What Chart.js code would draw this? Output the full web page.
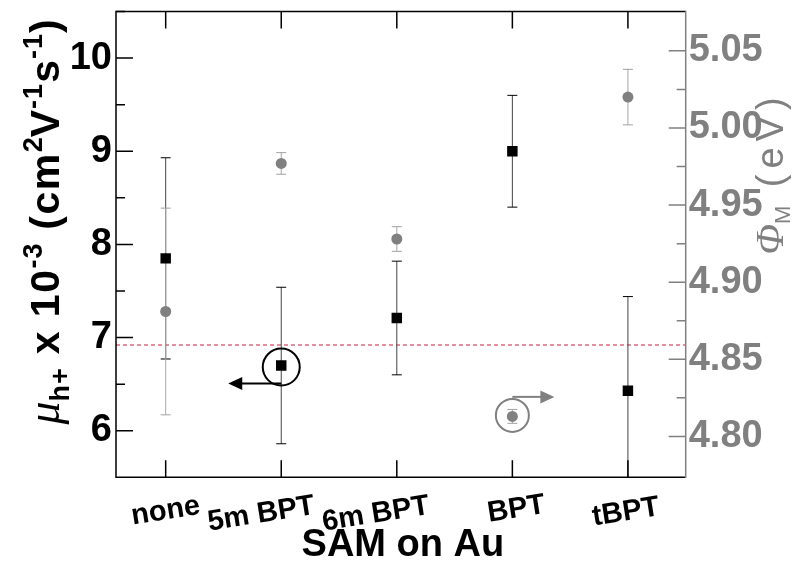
<!DOCTYPE html>
<html>
<head>
<meta charset="utf-8">
<script src="https://cdn.jsdelivr.net/npm/chart.js@4"></script>
<style>
  html, body { margin: 0; padding: 0; background: #fff; }
  canvas { display: block; }
</style>
</head>
<body>
<canvas id="chart" width="795" height="565"></canvas>
<script>
const categories = ['none', '5m BPT', '6m BPT', 'BPT', 'tBPT']
const mobility = [7.85, 6.70, 7.21, 9.00, 6.43]
const mobilityErr = [1.08, 0.84, 0.61, 0.60, 1.01]
const workFunction = [4.881, 4.977, 4.928, 4.813, 5.020]
const workFunctionErr = [0.067, 0.007, 0.008, 0.0045, 0.018]
const mobilityTicks = [6, 7, 8, 9, 10]
const workFunctionTicks = [4.80, 4.85, 4.90, 4.95, 5.00, 5.05]
const referenceMobility = 6.92

const SANS = '"Liberation Sans", Arial, sans-serif'
const SERIF = '"Liberation Serif", "Times New Roman", serif'
const GRAY = '#808080'

// hand-placed label nudges, like in the original figure
const labelShift = [[0, 0], [-20, 3], [-21, 3], [4, -2], [-2, 1]]

function drawRich(ctx, parts, x, y, angle) {
  ctx.save()
  ctx.translate(x, y)
  ctx.rotate(angle)
  let total = 0
  parts.forEach(p => {
    ctx.font = p.font
    ctx.letterSpacing = (p.ls || 0) + 'px'
    p.w = ctx.measureText(p.text).width
    total += p.w
  })
  let cx = -total / 2
  ctx.textAlign = 'left'
  ctx.textBaseline = 'alphabetic'
  parts.forEach(p => {
    ctx.font = p.font
    ctx.letterSpacing = (p.ls || 0) + 'px'
    ctx.fillStyle = p.color
    ctx.fillText(p.text, cx, p.dy || 0)
    cx += p.w
  })
  ctx.restore()
}

function errorBars(ctx, xs, ys, vals, errs, lineColor, capColor) {
  ctx.lineWidth = 1
  vals.forEach((v, i) => {
    const x = xs.getPixelForValue(i)
    const top = ys.getPixelForValue(v + errs[i])
    const bot = ys.getPixelForValue(v - errs[i])
    ctx.strokeStyle = lineColor
    ctx.beginPath()
    ctx.moveTo(x, top)
    ctx.lineTo(x, bot)
    ctx.stroke()
    ctx.strokeStyle = capColor
    ctx.beginPath()
    ctx.moveTo(x - 5, top)
    ctx.lineTo(x + 5, top)
    ctx.moveTo(x - 5, bot)
    ctx.lineTo(x + 5, bot)
    ctx.stroke()
  })
}

function arrow(ctx, x0, y, x1, color) {
  const dir = Math.sign(x1 - x0)
  ctx.strokeStyle = color
  ctx.fillStyle = color
  ctx.lineWidth = 2
  ctx.beginPath()
  ctx.moveTo(x0, y)
  ctx.lineTo(x1 - dir * 12, y)
  ctx.stroke()
  ctx.beginPath()
  ctx.moveTo(x1, y)
  ctx.lineTo(x1 - dir * 14, y - 6.5)
  ctx.lineTo(x1 - dir * 14, y + 6.5)
  ctx.closePath()
  ctx.fill()
}

const figure = {
  id: 'figure',
  beforeDatasetsDraw(chart) {
    const {ctx, chartArea: a, scales} = chart
    ctx.save()
    ctx.beginPath()
    ctx.rect(a.left, a.top, a.right - a.left, a.bottom - a.top)
    ctx.clip()

    // reference level
    const ry = scales.y.getPixelForValue(referenceMobility)
    ctx.strokeStyle = '#c8203c'
    ctx.lineWidth = 1.2
    ctx.setLineDash([4, 3])
    ctx.beginPath()
    ctx.moveTo(a.left, ry)
    ctx.lineTo(a.right, ry)
    ctx.stroke()
    ctx.setLineDash([])

    errorBars(ctx, scales.x, scales.y, mobility, mobilityErr, '#444', '#000')
    errorBars(ctx, scales.x, scales.y2, workFunction, workFunctionErr, '#a8a8a8', '#a0a0a0')
    ctx.restore()
  },
  afterDatasetsDraw(chart) {
    const {ctx, chartArea: a, scales} = chart
    const xs = scales.x, yl = scales.y, yr = scales.y2
    ctx.save()

    // circled points with arrows
    const bx = xs.getPixelForValue(1), by = yl.getPixelForValue(mobility[1]) + 1.5
    ctx.strokeStyle = '#000'
    ctx.lineWidth = 2
    ctx.beginPath()
    ctx.arc(bx, by, 18.5, 0, Math.PI * 2)
    ctx.stroke()
    arrow(ctx, bx, by + 16.5, bx - 53, '#000')

    const gx = xs.getPixelForValue(3), gy = yr.getPixelForValue(workFunction[3]) - 1
    ctx.strokeStyle = GRAY
    ctx.beginPath()
    ctx.arc(gx, gy, 16.5, 0, Math.PI * 2)
    ctx.stroke()
    arrow(ctx, gx, gy - 18.5, gx + 42, GRAY)

    // frame
    ctx.lineWidth = 1.5
    ctx.strokeStyle = '#000'
    ctx.beginPath()
    ctx.moveTo(a.right, a.top)
    ctx.lineTo(a.left, a.top)
    ctx.lineTo(a.left, a.bottom)
    ctx.lineTo(a.right, a.bottom)
    ctx.stroke()
    ctx.strokeStyle = GRAY
    ctx.beginPath()
    ctx.moveTo(a.right, a.top - 0.75)
    ctx.lineTo(a.right, a.bottom + 0.75)
    ctx.stroke()

    // inward ticks
    ctx.lineWidth = 1.5
    ctx.strokeStyle = '#000'
    ctx.beginPath()
    categories.forEach((c, i) => {
      const x = xs.getPixelForValue(i)
      ctx.moveTo(x, a.bottom)
      ctx.lineTo(x, a.bottom - 17)
      ctx.moveTo(x, a.top)
      ctx.lineTo(x, a.top + 17)
    })
    mobilityTicks.forEach(v => {
      const y = yl.getPixelForValue(v)
      ctx.moveTo(a.left, y)
      ctx.lineTo(a.left + 17, y)
      const m = yl.getPixelForValue(v + 0.5)
      ctx.moveTo(a.left, m)
      ctx.lineTo(a.left + 9, m)
    })
    ctx.stroke()
    ctx.strokeStyle = GRAY
    ctx.beginPath()
    workFunctionTicks.forEach((v, i) => {
      const y = yr.getPixelForValue(v)
      ctx.moveTo(a.right, y)
      ctx.lineTo(a.right - 17, y)
      if (i < workFunctionTicks.length - 1) {
        const m = yr.getPixelForValue((v + workFunctionTicks[i + 1]) / 2)
        ctx.moveTo(a.right, m)
        ctx.lineTo(a.right - 9, m)
      }
    })
    ctx.stroke()
    ctx.restore()
  },
  afterDraw(chart) {
    const {ctx, chartArea: a, scales} = chart
    ctx.save()

    // rotated category labels
    ctx.font = 'bold 29px ' + SANS
    ctx.fillStyle = '#000'
    ctx.textAlign = 'center'
    ctx.textBaseline = 'middle'
    categories.forEach((c, i) => {
      const x = scales.x.getPixelForValue(i) + labelShift[i][0]
      const y = a.bottom + 34 + labelShift[i][1]
      ctx.save()
      ctx.translate(x, y)
      ctx.rotate(-9 * Math.PI / 180)
      ctx.fillText(c, 0, 0)
      ctx.restore()
    })

    ctx.font = 'bold 38px ' + SANS
    ctx.fillText('SAM on Au', (a.left + a.right) / 2 + 2, a.bottom + 68)

    // left axis title
    const b = 'bold 41px ' + SANS, s = 'bold 27px ' + SANS
    drawRich(ctx, [
      {text: 'μ', font: 'italic 46px ' + SERIF, color: '#000'},
      {text: 'h+', font: s, color: '#000', dy: 10, ls: 1},
      {text: ' x 10', font: b, color: '#000', ls: 1.5},
      {text: '-3', font: s, color: '#000', dy: -17, ls: 1},
      {text: ' (cm', font: b, color: '#000', ls: 1.5},
      {text: '2', font: s, color: '#000', dy: -17},
      {text: 'V', font: b, color: '#000', ls: 1},
      {text: '-1', font: s, color: '#000', dy: -17, ls: 1},
      {text: 's', font: b, color: '#000', ls: 1},
      {text: '-1', font: s, color: '#000', dy: -17, ls: 1},
      {text: ')', font: b, color: '#000'}
    ], 59, 222, -Math.PI / 2)

    // right axis title
    drawRich(ctx, [
      {text: 'Φ', font: 'italic 40px ' + SERIF, color: GRAY},
      {text: 'M', font: '22px ' + SANS, color: GRAY, dy: 7, ls: 2},
      {text: ' (eV)', font: '38px ' + SANS, color: GRAY, ls: 6}
    ], 783, 173, -Math.PI / 2)
    ctx.restore()
  }
}

new Chart(document.getElementById('chart'), {
  type: 'scatter',
  data: {
    datasets: [
      {
        label: 'mobility',
        data: mobility.map((v, i) => ({x: i, y: v})),
        yAxisID: 'y',
        pointStyle: 'rect',
        pointRadius: 7.4,
        backgroundColor: '#000',
        borderColor: '#000',
        borderWidth: 0,
        order: 0
      },
      {
        label: 'work function',
        data: workFunction.map((v, i) => ({x: i, y: v})),
        yAxisID: 'y2',
        pointStyle: 'circle',
        pointRadius: 5.5,
        backgroundColor: GRAY,
        borderColor: GRAY,
        borderWidth: 0,
        order: 1
      }
    ]
  },
  options: {
    responsive: false,
    animation: false,
    layout: {padding: {top: 11.5, left: 0, right: 0, bottom: 0}},
    plugins: {
      legend: {display: false},
      tooltip: {enabled: false}
    },
    scales: {
      x: {
        type: 'linear',
        min: -0.43,
        max: 4.5,
        grid: {display: false, drawTicks: false},
        border: {display: false},
        ticks: {display: false},
        afterFit(s) { s.height = 87.7; s.paddingLeft = 0; s.paddingRight = 0 }
      },
      y: {
        position: 'left',
        min: 5.5,
        max: 10.5,
        afterBuildTicks(s) { s.ticks = mobilityTicks.map(v => ({value: v})) },
        ticks: {
          font: {family: SANS, size: 38, weight: 'bold'},
          color: '#000',
          padding: 4,
          callback: v => String(v)
        },
        grid: {display: false, drawTicks: false},
        border: {display: false},
        afterFit(s) { s.width = 116; s.paddingTop = 0; s.paddingBottom = 0 }
      },
      y2: {
        position: 'right',
        min: 4.7735,
        max: 5.0755,
        afterBuildTicks(s) { s.ticks = workFunctionTicks.map(v => ({value: v})) },
        ticks: {
          font: {family: SANS, size: 38, weight: 'bold'},
          color: GRAY,
          padding: 3,
          callback: v => v.toFixed(2)
        },
        grid: {display: false, drawTicks: false},
        border: {display: false},
        afterFit(s) { s.width = 109.3; s.paddingTop = 0; s.paddingBottom = 0 }
      }
    }
  },
  plugins: [figure]
})
</script>
</body>
</html>
